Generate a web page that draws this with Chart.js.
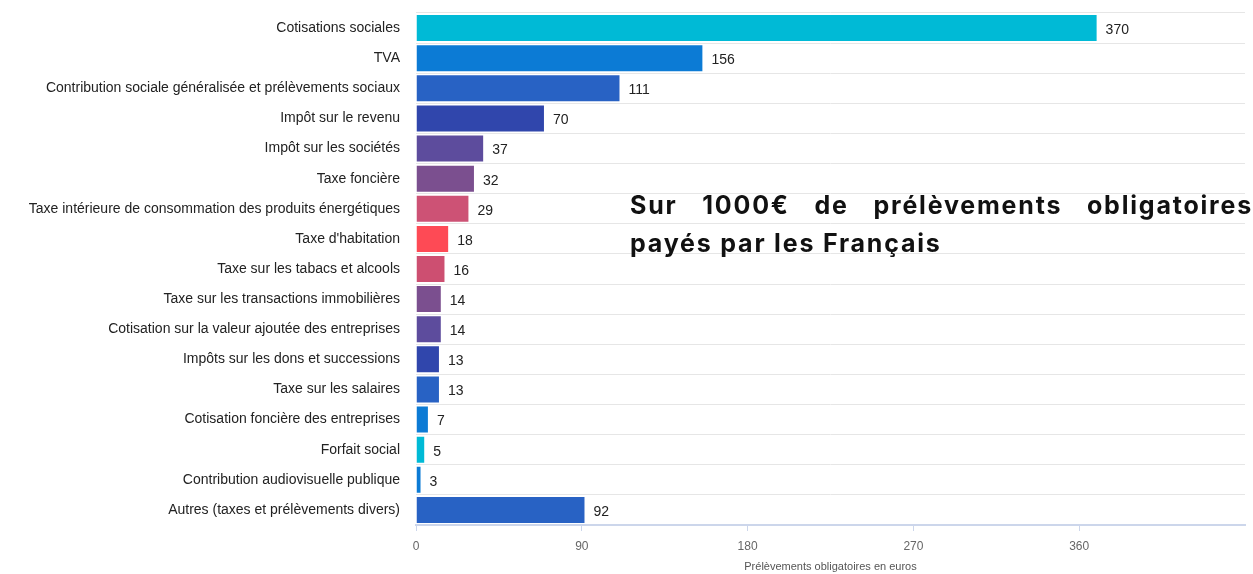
<!DOCTYPE html>
<html>
<head>
<meta charset="utf-8">
<script src="https://cdn.jsdelivr.net/npm/chart.js@4"></script>
<style>
  html, body { margin: 0; padding: 0; background: #fff; }
  #wrap { position: relative; width: 1253px; height: 574px; }
  #chart { position: absolute; left: 0; top: 0; }
  .note { position: absolute; left: 630px; width: 623px; font-family: Inter, "Noto Sans", sans-serif;
          font-weight: 700; font-size: 25px; color: #111; letter-spacing: 1.8px; white-space: nowrap; }
  #note1 { top: 190px; text-align: justify; text-align-last: justify; white-space: normal; }
  #note2 { top: 228px; }
</style>
</head>
<body>
<div id="wrap">
  <canvas id="chart" width="1253" height="574"></canvas>
  <div class="note" id="note1">Sur 1000€ de prélèvements obligatoires</div>
  <div class="note" id="note2">payés par les Français</div>
</div>
<script>
// Sur 1000€ de prélèvements obligatoires
var categories = [
    'Cotisations sociales',
    'TVA',
    'Contribution sociale généralisée et prélèvements sociaux',
    'Impôt sur le revenu',
    'Impôt sur les sociétés',
    'Taxe foncière',
    'Taxe intérieure de consommation des produits énergétiques',
    "Taxe d'habitation",
    'Taxe sur les tabacs et alcools',
    'Taxe sur les transactions immobilières',
    'Cotisation sur la valeur ajoutée des entreprises',
    'Impôts sur les dons et successions',
    'Taxe sur les salaires',
    'Cotisation foncière des entreprises',
    'Forfait social',
    'Contribution audiovisuelle publique',
    'Autres (taxes et prélèvements divers)'
];
var montants = [370, 156, 111, 70, 37, 32, 29, 18, 16, 14, 14, 13, 13, 7, 5, 3, 92];
var couleurs = [
    '#00bad6', '#0c7bd5', '#2862c4', '#3046ac', '#5d4c9d', '#7b4f8f',
    '#cd5275', '#fe4a55', '#cd4f71', '#7b4f8f', '#5d4c9d', '#3046ac',
    '#2862c4', '#0c7bd5', '#00bad6', '#0c7bd5', '#2862c4'
];
var xTicks = [0, 90, 180, 270, 360];
var xMax = 450;

var valueLabels = {
    id: 'valueLabels',
    afterDatasetsDraw: function (chart) {
        var ctx = chart.ctx;
        var meta = chart.getDatasetMeta(0);
        ctx.save();
        ctx.font = '14px "Liberation Sans", Arial, sans-serif';
        ctx.fillStyle = '#222';
        ctx.textAlign = 'left';
        ctx.textBaseline = 'middle';
        meta.data.forEach(function (bar, i) {
            ctx.fillText(montants[i], bar.x + 8, bar.y + 2);
        });
        ctx.restore();
    }
};

var ctx = document.getElementById('chart');
var chart = new Chart(ctx, {
    type: 'bar',
    data: {
        labels: categories,
        datasets: [{
            data: montants,
            backgroundColor: couleurs,
            borderColor: 'rgba(255,255,255,0.45)',
            borderWidth: 1,
            barPercentage: 0.93,
            categoryPercentage: 1
        }]
    },
    options: {
        indexAxis: 'y',
        responsive: false,
        animation: false,
        layout: { padding: { top: 13, right: 8, left: 0, bottom: 0 } },
        plugins: { legend: { display: false }, tooltip: { enabled: false } },
        scales: {
            y: {
                afterFit: function (scale) {
                    scale.width = 416;
                    scale.paddingTop = 0;
                    scale.paddingBottom = 0;
                },
                grid: { color: '#e6e6e6', drawTicks: false, offset: true },
                border: { display: false },
                ticks: {
                    padding: 16,
                    color: '#222',
                    font: { family: '"Liberation Sans", Arial, sans-serif', size: 14 }
                }
            },
            x: {
                min: 0,
                max: xMax,
                afterFit: function (scale) { scale.height = 49; },
                afterBuildTicks: function (scale) {
                    scale.ticks = xTicks.map(function (v) { return { value: v }; });
                },
                grid: { drawOnChartArea: false, drawTicks: true, tickLength: 6, color: '#ccd6eb' },
                border: { display: true, color: '#ccd6eb', width: 2 },
                ticks: {
                    padding: 8,
                    color: '#666',
                    maxRotation: 0,
                    font: { family: '"Liberation Sans", Arial, sans-serif', size: 12 }
                },
                title: {
                    display: true,
                    text: 'Prélèvements obligatoires en euros',
                    color: '#555',
                    padding: { top: 0, bottom: 0 },
                    font: { family: '"Liberation Sans", Arial, sans-serif', size: 11 }
                }
            }
        }
    },
    plugins: [valueLabels]
});
</script>
</body>
</html>
